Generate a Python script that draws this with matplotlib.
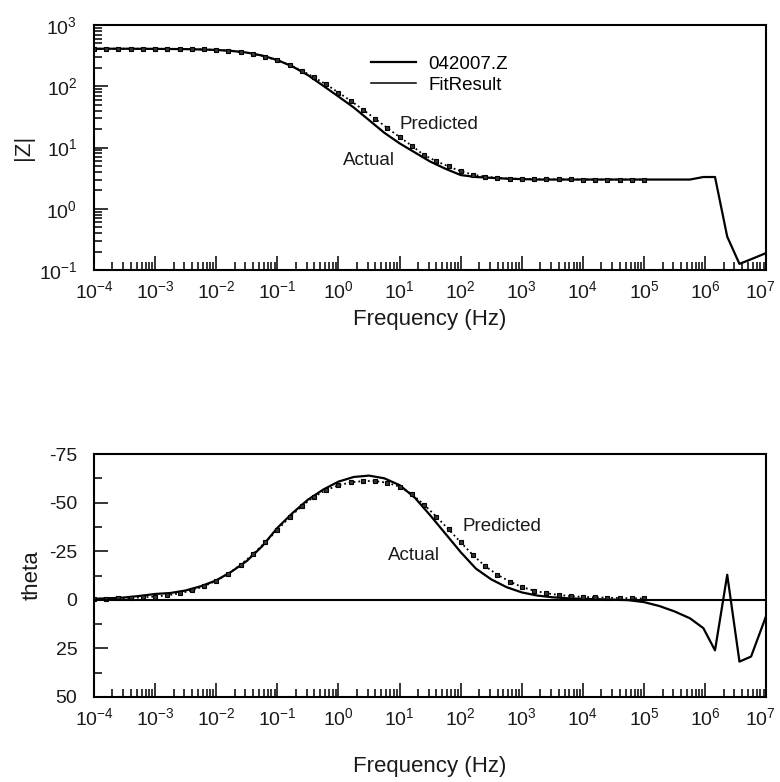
import numpy as np
import matplotlib.pyplot as plt
from matplotlib.lines import Line2D
from matplotlib.ticker import LogLocator, MultipleLocator
from matplotlib.transforms import ScaledTranslation

plt.rcParams['font.family'] = ['Liberation Sans', 'DejaVu Sans']
plt.rcParams['mathtext.default'] = 'regular'
plt.rcParams['axes.unicode_minus'] = False

# measured spectrum (042007.Z), log10 of frequency
meas_logf = [-4, -3.75, -3.5, -3.25, -3.0, -2.75, -2.5, -2.25, -2.0, -1.75, -1.5, -1.25,
             -1.0, -0.75, -0.5, -0.25, 0.0, 0.25, 0.5, 0.75, 1.0, 1.25, 1.5, 1.75, 2.0,
             2.25, 2.5, 2.75, 3.0, 3.25, 3.5, 3.75, 4.0, 4.25, 4.5, 4.75, 5.0, 5.25, 5.5,
             5.75, 5.97, 6.16, 6.36, 6.56, 6.75, 7.0]
meas_z = [410, 410, 410, 409, 408, 406, 404, 399, 392, 378, 355, 318,
          268, 210, 152, 102, 68, 45, 28, 17.4, 11.7, 8.3, 5.9, 4.5, 3.55,
          3.3, 3.2, 3.1, 3.05, 3.0, 3.0, 3.0, 3.0, 3.0, 3.0, 3.0, 3.0, 3.0, 3.0,
          3.0, 3.3, 3.3, 0.35, 0.126, 0.15, 0.19]
meas_theta = [-0.5, -0.8, -1.2, -2.0, -3.0, -3.5, -4.8, -7.0, -10.0, -14.5, -20.0, -27.5,
              -37.0, -44.7, -51.5, -56.7, -60.8, -63.2, -63.9, -62.5, -59.0, -52.5, -43.5, -34.0, -24.5,
              -16.0, -10.5, -6.5, -3.8, -2.2, -1.3, -0.8, -0.5, -0.3, -0.1, 0.2, 1.2, 3.2, 6.0,
              9.5, 14.6, 26.0, -12.9, 31.8, 29.2, 8.0]

# fit result
fit_logf = [-4.0, -3.8, -3.6, -3.4, -3.2, -3.0, -2.8, -2.6, -2.4, -2.2, -2.0, -1.8, -1.6,
            -1.4, -1.2, -1.0, -0.8, -0.6, -0.4, -0.2, 0.0, 0.2, 0.4, 0.6, 0.8, 1.0, 1.2,
            1.4, 1.6, 1.8, 2.0, 2.2, 2.4, 2.6, 2.8, 3.0, 3.2, 3.4, 3.6, 3.8, 4.0, 4.2,
            4.4, 4.6, 4.8, 5.0]
fit_z = [410, 410, 410, 409, 409, 408, 407, 405, 403, 399, 393, 382, 365,
         340, 305, 265, 222, 180, 140, 107, 79, 58, 41.5, 29.5, 20.8, 14.8, 10.7,
         7.5, 6.0, 4.9, 4.1, 3.6, 3.35, 3.2, 3.12, 3.08, 3.05, 3.03, 3.02, 3.01, 3.0, 3.0,
         3.0, 3.0, 3.0, 3.0]
fit_theta = [-0.5, -0.6, -0.8, -1.0, -1.3, -1.7, -2.3, -3.3, -4.8, -7.0, -9.8, -13.5, -18.0,
             -23.5, -29.5, -36.0, -42.5, -48.2, -53.0, -56.5, -58.9, -60.4, -61.1, -61.1, -60.2, -58.2, -54.3,
             -49.0, -42.8, -36.3, -29.6, -23.0, -17.3, -12.9, -9.4, -6.6, -4.7, -3.4, -2.5, -1.9, -1.5, -1.3,
             -1.1, -0.9, -0.8, -0.7]

f_meas = 10.0 ** np.array(meas_logf)
f_fit = 10.0 ** np.array(fit_logf)

txt = '#1a1a1a'
fig = plt.figure(figsize=(7.8, 7.82), dpi=100)
ax1 = fig.add_axes([0.1205, 0.6547, 0.862, 0.3133])
ax2 = fig.add_axes([0.1205, 0.1087, 0.862, 0.3107])

fit_style = dict(color='black', ls=':', lw=1.3, marker='s', ms=2.3,
                 mfc='#333333', mec='black', mew=0.8)

ax1.plot(f_meas, meas_z, color='black', lw=1.6)
ax1.plot(f_fit, fit_z, **fit_style)
ax1.set_xscale('log')
ax1.set_yscale('log')
ax1.set_xlim(1e-4, 1e7)
ax1.set_ylim(0.1, 1000)
ax1.set_ylabel('|Z|', fontsize=16, color=txt, labelpad=3)
ax1.set_xlabel('Frequency (Hz)', fontsize=16, color=txt, labelpad=5)
ax1.text(0.455, 0.596, 'Predicted', transform=ax1.transAxes, fontsize=13.5,
         va='center', color=txt)
ax1.text(0.371, 0.449, 'Actual', transform=ax1.transAxes, fontsize=13.5,
         va='center', color=txt)
handles = [Line2D([], [], color='black', lw=1.6), Line2D([], [], color='black', lw=1.1)]
ax1.legend(handles, ['042007.Z', 'FitResult'], loc='upper left', bbox_to_anchor=(0.4125, 0.875),
           frameon=False, fontsize=13.5, handlelength=2.4, handletextpad=0.64,
           labelspacing=0.22, borderpad=0, borderaxespad=0)

ax2.plot(f_meas, meas_theta, color='black', lw=1.6)
ax2.plot(f_fit, fit_theta, **fit_style)
ax2.axhline(0, color='black', lw=1.5)
ax2.set_xscale('log')
ax2.set_xlim(1e-4, 1e7)
ax2.set_ylim(50, -75)
ax2.yaxis.set_major_locator(MultipleLocator(25))
ax2.yaxis.set_minor_locator(MultipleLocator(12.5))
ax2.set_ylabel('theta', fontsize=16, color=txt, labelpad=5)
ax2.set_xlabel('Frequency (Hz)', fontsize=16, color=txt, labelpad=20)
ax2.text(0.548, 0.70, 'Predicted', transform=ax2.transAxes, fontsize=13.5,
         va='center', color=txt)
ax2.text(0.4375, 0.584, 'Actual', transform=ax2.transAxes, fontsize=13.5,
         va='center', color=txt)

for ax in (ax1, ax2):
    ax.xaxis.set_major_locator(LogLocator(base=10, numticks=30))
    ax.xaxis.set_minor_locator(LogLocator(base=10, subs=np.arange(2, 10), numticks=300))
    if ax is ax1:
        ax.yaxis.set_major_locator(LogLocator(base=10, numticks=30))
        ax.yaxis.set_minor_locator(LogLocator(base=10, subs=np.arange(2, 10), numticks=300))
    ax.tick_params(which='both', direction='in', top=False, right=False,
                   labelsize=14, labelcolor=txt, width=1.1)
    ax.tick_params(which='major', length=10, pad=7)
    ax.tick_params(which='minor', length=6)
    ax.tick_params(axis='y', which='major', pad=12)
    for s in ax.spines.values():
        s.set_linewidth(1.5)

# nudge the 10^7 label in so it is not clipped at the figure edge
fig.canvas.draw()
for ax in (ax1, ax2):
    for tick in ax.xaxis.get_major_ticks():
        if np.isclose(tick.get_loc(), 1e7):
            lab = tick.label1
            lab.set_transform(lab.get_transform() + ScaledTranslation(-4 / 72, 0, fig.dpi_scale_trans))

fig.savefig('out.png', dpi=100)
